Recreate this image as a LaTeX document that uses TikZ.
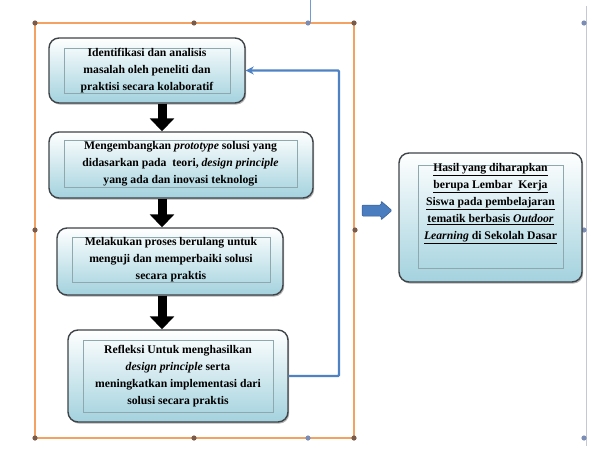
\documentclass[tikz,border=0pt]{standalone}
\usepackage{fontspec}
\setmainfont{Liberation Serif}
\usetikzlibrary{shadows,arrows.meta}
\definecolor{boxedge}{HTML}{3F4448}
\definecolor{boxblue}{HTML}{A3D2DE}
\definecolor{innergray}{HTML}{8FA8AE}
\definecolor{fbblue}{HTML}{4F82C4}
\definecolor{frameor}{HTML}{F4A261}
\definecolor{handledark}{HTML}{7A5A48}
\definecolor{handleblue}{HTML}{7C8DB5}
\definecolor{guidegray}{HTML}{C4C8D4}
\definecolor{arrowblue}{HTML}{4A7CC0}
\newcommand{\txtfont}{\fontsize{11.7}{17}\selectfont\bfseries}
\begin{document}
\begin{tikzpicture}[x=1pt,y=-1pt,
  outerbox/.style={draw=boxedge, line width=1.4pt, rounded corners=10pt,
    top color=white, bottom color=boxblue, inner sep=0pt,
    drop shadow={shadow xshift=1.2pt, shadow yshift=-1.6pt, fill=black!55, opacity=0.55}},
  innerbox/.style={draw=innergray, line width=0.6pt, inner sep=0pt, align=center, font=\txtfont},
  txt/.style={inner sep=0pt, align=center, font=\txtfont},
  flowarrow/.style={black, line width=9pt, -{Triangle[length=13pt 0 0, width=24pt 0 0]}},
  fbline/.style={fbblue, line width=2.4pt, -{Stealth[length=8pt 0 0, width=8pt 0 0]}},
  handle/.style={fill=handledark},
  handleb/.style={fill=handleblue}]
\useasboundingbox (0,0) rectangle (589,450);

% selection frame
\draw[frameor, line width=2.6pt] (35,23) rectangle (354,438);
\draw[fbblue!80, line width=0.8pt] (310,0) -- (310,23);
\draw[guidegray, line width=1pt] (586,6) -- (586,446);
\foreach \p in {(35,23),(194,23),(354,23),(35,438),(194,438),(354,438),(35,230),(355,230)}
  \fill[handle] \p circle (2.6pt);
\foreach \p in {(308,23),(308,438),(584,23),(584,230),(584,438)}
  \fill[handleb] \p circle (2.6pt);

% boxes
\node[outerbox, minimum width=196pt, minimum height=65pt] (b1) at (147,70.5) {};
\node[innerbox, minimum width=166pt, minimum height=45pt] (t1) at (147,70.5)
  {Identifikasi dan analisis\\masalah oleh peneliti dan\\praktisi secara kolaboratif};

\node[outerbox, minimum width=264pt, minimum height=66pt] (b2) at (181,165) {};
\node[innerbox, minimum width=233pt, minimum height=47pt] (t2) at (180.5,163.5)
  {Mengembangkan \textit{prototype} solusi yang\\didasarkan pada\ \ teori, \textit{design principle}\\yang ada dan inovasi teknologi};

\node[outerbox, minimum width=226pt, minimum height=67pt] (b3) at (170,261.5) {};
\node[innerbox, minimum width=198pt, minimum height=44pt] (t3) at (171,260)
  {Melakukan proses berulang untuk\\menguji dan memperbaiki solusi\\secara praktis};

\node[outerbox, minimum width=220pt, minimum height=92pt] (b4) at (178,376) {};
\node[innerbox, minimum width=190pt, minimum height=72pt] (t4) at (178,376)
  {Refleksi Untuk menghasilkan\\\textit{design principle} serta\\meningkatkan implementasi dari\\solusi secara praktis};

\node[outerbox, minimum width=183pt, minimum height=129pt] (r) at (490.5,217.5) {};
\node[draw=innergray, line width=0.6pt, inner sep=0pt, minimum width=145pt, minimum height=103pt] (ri) at (490.5,216.5) {};
\node[txt, anchor=north] (rt) at (490.5,163)
  {\underline{Hasil yang diharapkan}\\\underline{berupa Lembar\ \ Kerja}\\\underline{Siswa pada pembelajaran}\\\underline{tematik berbasis \textit{Outdoor}}\\\underline{\textit{Learning} di Sekolah Dasar}};

% flow arrows
\coordinate (ax) at (162,0);
\draw[flowarrow] (b1.south -| ax) -- (b2.north -| ax);
\draw[flowarrow] (b2.south -| ax) -- (b3.north -| ax);
\draw[flowarrow] (b3.south -| ax) -- (b4.north -| ax);

% feedback loop
\coordinate (fbx) at (339,0);
\draw[fbline, rounded corners=1pt] (b4.east) -- (b4.east -| fbx) |- (b1.east);

% block arrow to result
\fill[arrowblue, draw=arrowblue!75!black, line width=0.5pt, rounded corners=1pt]
  (362,205) -- (381,205) -- (381,201) -- (392,210.5) -- (381,220) -- (381,216) -- (362,216) -- cycle;
\end{tikzpicture}
\end{document}
